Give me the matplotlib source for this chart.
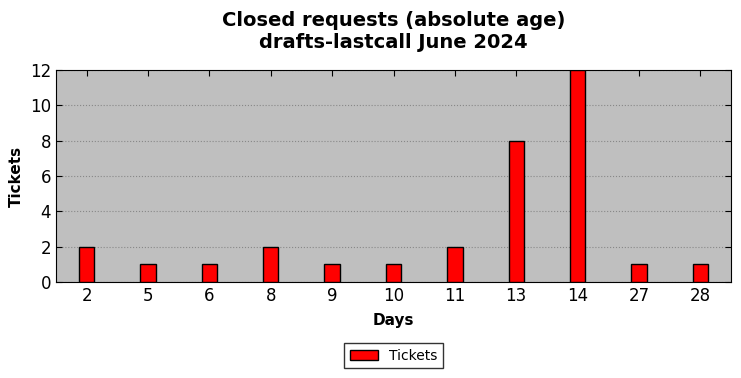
import matplotlib
matplotlib.use("Agg")
import matplotlib.pyplot as plt

days = ["2", "5", "6", "8", "9", "10", "11", "13", "14", "27", "28"]
tickets = [2, 1, 1, 2, 1, 1, 2, 8, 12, 1, 1]

fig = plt.figure(figsize=(7.41, 3.78), dpi=100)
ax = fig.add_axes([56/741, 1-282/378, (731-56)/741, (282-70)/378])
ax.set_facecolor("#bfbfbf")
x = list(range(len(days)))
ax.bar(x, tickets, width=0.25, color="red", edgecolor="black", linewidth=1, label="Tickets", zorder=3)
ax.set_xticks(x)
ax.set_xticklabels(days, fontsize=12)
ax.set_xlim(-0.5, len(days) - 0.5)
ax.set_ylim(0, 12)
ax.set_yticks(range(0, 13, 2))
ax.tick_params(axis="y", labelsize=12)
ax.tick_params(direction="in", top=True, right=True, length=4)
ax.yaxis.grid(True, linestyle=":", color="#888888", linewidth=0.8, zorder=0)
ax.set_axisbelow(True)
ax.set_xlabel("Days", fontweight="bold", fontsize=11, labelpad=6)
ax.set_ylabel("Tickets", fontweight="bold", fontsize=11)
ax.set_title("Closed requests (absolute age)\ndrafts-lastcall June 2024", fontweight="bold", fontsize=14, pad=16)
leg = ax.legend(loc="upper center", bbox_to_anchor=(0.5, -0.255), frameon=True, fancybox=False,
                edgecolor="black", fontsize=10, handlelength=2.0)
leg.get_frame().set_linewidth(1)
fig.savefig("out.png", dpi=100)
